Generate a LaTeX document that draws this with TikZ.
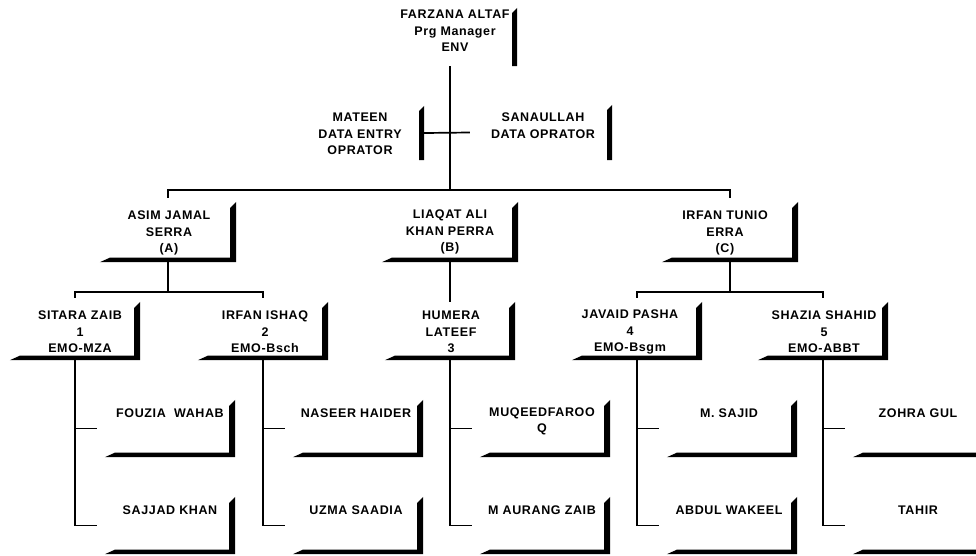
\documentclass[tikz,border=0pt]{standalone}
\usepackage{fontspec}
\setmainfont{Liberation Sans}[LetterSpace=5]
\newcommand\shadowLR[1]{%
  \fill (#1.south west) -- ([xshift=10pt,yshift=4.5pt]#1.south west)
    -- ([xshift=-6pt,yshift=4.5pt]#1.south east)
    -- ([xshift=-6pt,yshift=-6pt]#1.north east) -- (#1.north east)
    -- (#1.south east) -- cycle;}
\newcommand\shadowR[1]{%
  \fill ([xshift=-5pt,yshift=-5pt]#1.north east) -- (#1.north east)
    -- (#1.south east) -- ([xshift=-5pt]#1.south east) -- cycle;}
\begin{document}
\begin{tikzpicture}[x=1pt,y=-1pt,
  basebox/.style={rectangle,inner sep=0pt,draw=none},
  topbox/.style={basebox,minimum width=134pt,minimum height=58pt},
  l2box/.style={basebox,minimum width=136pt,minimum height=60pt},
  l3box/.style={basebox,minimum width=130pt,minimum height=58pt},
  l4box/.style={basebox,minimum width=130pt,minimum height=57pt},
  lbl/.style={font=\bfseries\fontsize{12.5}{16.5}\selectfont,align=center,inner sep=0pt},
  conn/.style={line width=1.7pt}]
\useasboundingbox (0,0) rectangle (976,555);
\clip (0,0) rectangle (976,555);

% top
\node[topbox] (farzana) at (450,37) {};
\node[lbl] (farzanaT) at (455,31) {FARZANA ALTAF\\Prg Manager\\ENV};
\node[basebox,minimum width=132pt,minimum height=54pt] (mateen) at (358,133) {};
\node[lbl] (mateenT) at (360,134) {MATEEN\\DATA ENTRY\\OPRATOR};
\node[basebox,minimum width=138pt,minimum height=55pt] (sana) at (543,132.5) {};
\node[lbl] (sanaT) at (543,125.5) {SANAULLAH\\DATA OPRATOR};

% level 2
\node[l2box] (A) at (168,232) {};
\node[lbl] (AT) at (169,233) {ASIM JAMAL\\SERRA\\(A)};
\node[l2box] (B) at (450,232) {};
\node[lbl] (BT) at (450,232) {LIAQAT ALI\\KHAN PERRA\\(B)};
\node[l2box] (C) at (730,232) {};
\node[lbl] (CT) at (725,233) {IRFAN TUNIO\\ERRA\\(C)};

% level 3
\node[l3box] (s1) at (75,331) {};
\node[lbl] (s1T) at (80,332) {SITARA ZAIB\\1\\EMO-MZA};
\node[l3box] (s2) at (263,331) {};
\node[lbl] (s2T) at (265,332) {IRFAN ISHAQ\\2\\EMO-Bsch};
\node[l3box] (s3) at (450,331) {};
\node[lbl] (s3T) at (451,332) {HUMERA\\LATEEF\\3};
\node[l3box] (s4) at (637,331) {};
\node[lbl] (s4T) at (630,332) {JAVAID PASHA\\4\\EMO-Bsgm};
\node[l3box] (s5) at (823,331) {};
\node[lbl] (s5T) at (824,332) {SHAZIA SHAHID\\5\\EMO-ABBT};

% level 4
\node[l4box] (g11) at (170,428.5) {};
\node[lbl] (g11T) at (170,413) {FOUZIA\ \ WAHAB};
\node[l4box] (g12) at (170,525.5) {};
\node[lbl] (g12T) at (170,510) {SAJJAD KHAN};
\node[l4box] (g21) at (358,428.5) {};
\node[lbl] (g21T) at (356,413) {NASEER HAIDER};
\node[l4box] (g22) at (358,525.5) {};
\node[lbl] (g22T) at (356,510) {UZMA SAADIA};
\node[l4box] (g31) at (545,428.5) {};
\node[lbl] (g31T) at (542,421.5) {MUQEEDFAROO\\Q};
\node[l4box] (g32) at (545,525.5) {};
\node[lbl] (g32T) at (542,510) {M AURANG ZAIB};
\node[l4box] (g41) at (732,428.5) {};
\node[lbl] (g41T) at (729,413) {M. SAJID};
\node[l4box] (g42) at (732,525.5) {};
\node[lbl] (g42T) at (729,510) {ABDUL WAKEEL};
\node[l4box] (g51) at (918,428.5) {};
\node[lbl] (g51T) at (918,413) {ZOHRA GUL};
\node[l4box] (g52) at (918,525.5) {};
\node[lbl] (g52T) at (918,510) {TAHIR};

% shadows
\shadowR{farzana}
\shadowR{mateen}
\shadowR{sana}
\foreach \n in {A,B,C,s1,s2,s3,s4,s5,g11,g12,g21,g22,g31,g32,g41,g42,g51,g52}
  {\shadowLR{\n}}

% connectors
\coordinate (bj) at (450,190);
\coordinate (aj) at (168,292);
\coordinate (cj) at (730,292);
\draw[conn] (farzana.south) -- (bj);
\draw[conn] (mateen.east) -- ([xshift=-4pt]sana.west);
\draw[conn] ([yshift=4pt]A.north) |- (bj) -| ([yshift=4pt]C.north);
\draw[conn] (A.south) -- (aj);
\draw[conn] ([yshift=4pt]s1.north) |- (aj) -| ([yshift=4pt]s2.north);
\draw[conn] (B.south) -- (s3.north);
\draw[conn] (C.south) -- (cj);
\draw[conn] ([yshift=4pt]s4.north) |- (cj) -| ([yshift=4pt]s5.north);
\foreach \i in {1,...,5}{
  \draw[conn,shorten >=8pt] (s\i.south) |- (g\i1.west);
  \draw[conn,shorten >=8pt] (s\i.south) |- (g\i2.west);
}
\end{tikzpicture}
\end{document}
